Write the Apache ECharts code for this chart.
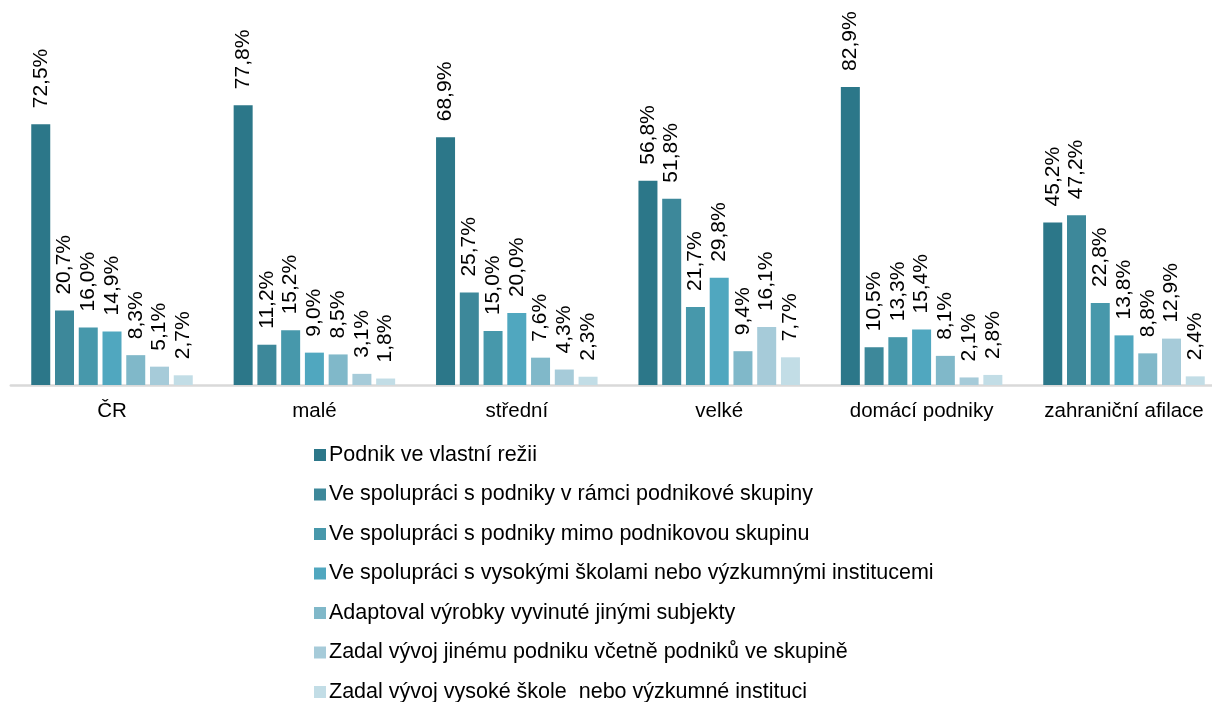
<!DOCTYPE html>
<html>
<head>
<meta charset="utf-8">
<script src="https://cdn.jsdelivr.net/npm/echarts@6/dist/echarts.min.js"></script>
<style>
html,body{margin:0;padding:0;background:#fff;overflow:hidden;width:1212px;height:702px;}
#chart{width:1226px;height:702px;}
</style>
</head>
<body>
<div id="chart"></div>
<script>
const categories = ['ČR', 'malé', 'střední', 'velké', 'domácí podniky', 'zahraniční afilace'];
const seriesNames = [
  'Podnik ve vlastní režii',
  'Ve spolupráci s podniky v rámci podnikové skupiny',
  'Ve spolupráci s podniky mimo podnikovou skupinu',
  'Ve spolupráci s vysokými školami nebo výzkumnými institucemi',
  'Adaptoval výrobky vyvinuté jinými subjekty',
  'Zadal vývoj jinému podniku včetně podniků ve skupině',
  'Zadal vývoj vysoké škole  nebo výzkumné instituci'
];
const vlastniRezie     = [72.5, 77.8, 68.9, 56.8, 82.9, 45.2];
const vRamciSkupiny    = [20.7, 11.2, 25.7, 51.8, 10.5, 47.2];
const mimoSkupinu      = [16.0, 15.2, 15.0, 21.7, 13.3, 22.8];
const skolyInstituce   = [14.9, 9.0, 20.0, 29.8, 15.4, 13.8];
const adaptoval        = [8.3, 8.5, 7.6, 9.4, 8.1, 8.8];
const zadalPodniku     = [5.1, 3.1, 4.3, 16.1, 2.1, 12.9];
const zadalSkole       = [2.7, 1.8, 2.3, 7.7, 2.8, 2.4];
const allSeries = [vlastniRezie, vRamciSkupiny, mimoSkupinu, skolyInstituce, adaptoval, zadalPodniku, zadalSkole];
const colors = ['#2c7789', '#3d889a', '#4798ab', '#50a7bf', '#80b8c9', '#a6cbd9', '#c2dde6'];

const fontFamily = 'Liberation Sans, Arial, sans-serif';
const chart = echarts.init(document.getElementById('chart'), null, {renderer: 'canvas'});

const series = allSeries.map((data, i) => ({
  name: seriesNames[i],
  type: 'bar',
  data: data,
  barWidth: 19,
  barGap: '25%',
  itemStyle: {color: colors[i]},
  label: {
    show: true,
    position: 'top',
    rotate: 90,
    align: 'left',
    verticalAlign: 'middle',
    distance: 16,
    fontSize: 21,
    fontFamily: fontFamily,
    color: '#000',
    formatter: p => p.value.toFixed(1).replace('.', ',') + '%'
  }
}));

chart.setOption({
  animation: false,
  color: colors,
  grid: {left: 10.8, right: 0.8, top: 25.4, height: 359.6, containLabel: false},
  xAxis: {
    type: 'category',
    data: categories,
    axisLine: {show: true, lineStyle: {color: '#d9d9d9', width: 2.5}},
    axisTick: {show: false},
    axisLabel: {fontSize: 20.5, fontFamily: fontFamily, color: '#000', margin: 16, interval: 0}
  },
  yAxis: {
    type: 'value',
    min: 0,
    max: 100,
    show: false,
    splitLine: {show: false}
  },
  legend: {
    orient: 'vertical',
    left: 314,
    top: 444,
    height: 300,
    padding: 0,
    itemWidth: 12,
    itemHeight: 12,
    itemGap: 17.5,
    icon: 'rect',
    data: seriesNames,
    textStyle: {fontSize: 21.5, fontFamily: fontFamily, color: '#000', lineHeight: 21.5, padding: [0, 0, 0, -2]}
  },
  series: series
});
</script>
</body>
</html>
